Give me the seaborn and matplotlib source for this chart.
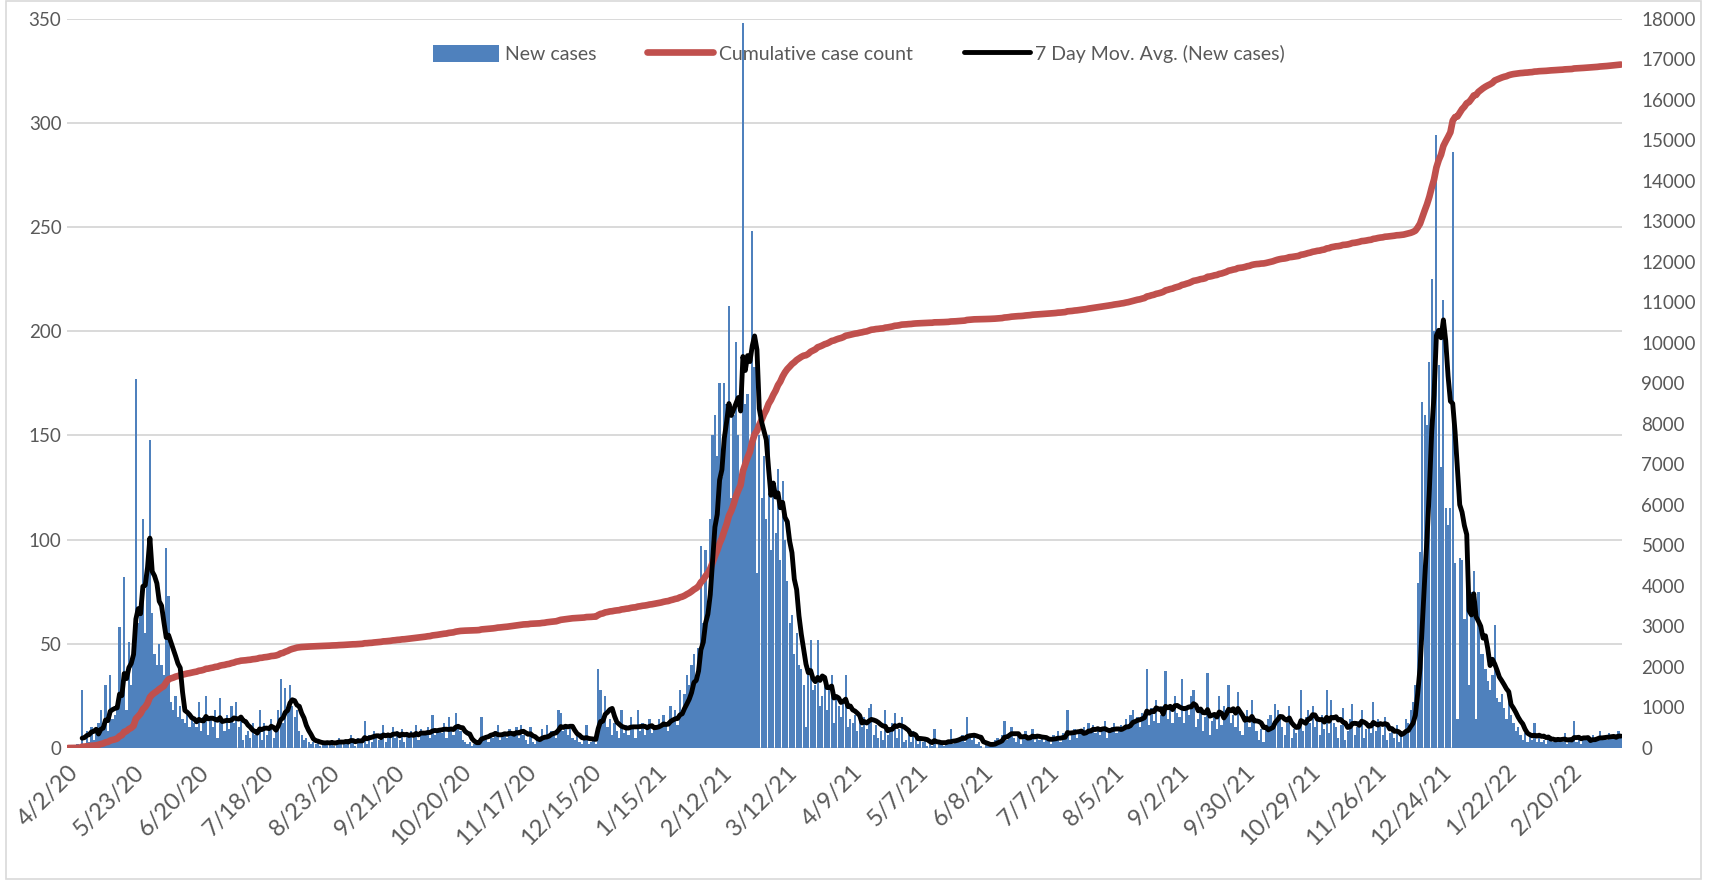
import numpy as np
import pandas as pd
import matplotlib
matplotlib.use("Agg")
import matplotlib.pyplot as plt
import seaborn as sns
from matplotlib.patches import Rectangle, Patch
from matplotlib.lines import Line2D
from matplotlib.transforms import ScaledTranslation

# ---------------- data (daily new cases, one row per reported day) ----------------
tick_labels = ["4/2/20", "5/23/20", "6/20/20", "7/18/20", "8/23/20", "9/21/20",
               "10/20/20", "11/17/20", "12/15/20", "1/15/21", "2/12/21", "3/12/21",
               "4/9/21", "5/7/21", "6/8/21", "7/7/21", "8/5/21", "9/2/21", "9/30/21",
               "10/29/21", "11/26/21", "12/24/21", "1/22/22", "2/20/22"]
rows_per_tick = 28

seg_0402_20 = [0, 1, 0, 1, 2, 1, 28, 2, 8, 3, 10, 4, 8, 12, 18, 12, 30, 8, 35, 14, 16, 20, 58, 25, 82, 18, 51, 30]
seg_0523_20 = [50, 177, 60, 65, 110, 55, 90, 148, 65, 45, 40, 50, 40, 35, 96, 73, 22, 18, 25, 15, 20, 14, 12, 16, 10, 14, 12, 10]
seg_0620_20 = [22, 8, 15, 25, 6, 14, 10, 18, 5, 24, 12, 8, 16, 9, 20, 12, 22, 10, 15, 4, 6, 8, 5, 12, 6, 9, 18, 4]
seg_0718_20 = [12, 6, 10, 14, 5, 9, 18, 33, 12, 29, 20, 30, 20, 15, 18, 8, 6, 4, 5, 3, 2, 3, 2, 4, 1, 3, 2, 3]
seg_0823_20 = [2, 4, 1, 3, 5, 2, 3, 4, 2, 6, 3, 1, 5, 3, 4, 13, 2, 6, 3, 8, 5, 4, 7, 11, 3, 6, 5, 10]
seg_0921_20 = [5, 8, 4, 9, 3, 7, 6, 8, 5, 11, 4, 9, 7, 6, 10, 5, 16, 6, 8, 9, 7, 12, 5, 15, 8, 6, 17, 10]
seg_1020_20 = [8, 4, 3, 2, 3, 1, 2, 3, 4, 15, 5, 6, 3, 7, 5, 8, 11, 4, 7, 6, 5, 9, 7, 8, 10, 5, 11, 6]
seg_1117_20 = [4, 2, 10, 3, 2, 4, 3, 9, 5, 11, 6, 8, 7, 5, 18, 17, 8, 10, 6, 9, 5, 4, 6, 3, 2, 4, 11, 2]
seg_1215_20 = [3, 5, 2, 38, 28, 12, 25, 10, 14, 6, 12, 8, 5, 18, 7, 11, 6, 15, 9, 5, 18, 8, 12, 6, 10, 14, 7, 11]
seg_0115_21 = [9, 14, 10, 16, 12, 8, 20, 14, 18, 11, 28, 16, 26, 35, 30, 40, 45, 35, 48, 97, 60, 95, 70, 110, 150, 160, 140, 175]
seg_0212_21 = [130, 175, 165, 212, 120, 160, 195, 150, 130, 348, 165, 170, 140, 248, 183, 84, 150, 120, 140, 110, 150, 95, 125, 103, 134, 90, 128, 100]
seg_0312_21 = [80, 60, 64, 45, 55, 40, 38, 30, 10, 35, 52, 28, 30, 52, 20, 25, 30, 18, 28, 35, 12, 25, 20, 15, 22, 35, 10, 14]
seg_0409_21 = [12, 16, 8, 14, 10, 15, 9, 19, 21, 6, 11, 5, 8, 4, 18, 6, 10, 12, 17, 5, 9, 15, 3, 4, 6, 3, 8, 5]
seg_0507_21 = [2, 4, 3, 5, 1, 2, 1, 9, 0, 2, 3, 1, 2, 4, 9, 2, 3, 5, 4, 6, 3, 15, 5, 4, 6, 2, 3, 1]
seg_0608_21 = [0, 2, 1, 3, 2, 4, 5, 3, 6, 13, 4, 7, 10, 5, 3, 6, 2, 5, 8, 4, 6, 9, 3, 5, 4, 6, 3, 5]
seg_0707_21 = [4, 2, 6, 5, 8, 3, 7, 5, 18, 4, 6, 9, 5, 8, 7, 10, 6, 12, 9, 11, 7, 10, 6, 9, 13, 5, 8, 10]
seg_0805_21 = [12, 7, 9, 11, 8, 14, 10, 16, 18, 12, 15, 10, 17, 14, 38, 11, 19, 13, 23, 12, 16, 20, 37, 14, 18, 12, 25, 17]
seg_0902_21 = [15, 33, 12, 20, 16, 25, 28, 10, 14, 18, 8, 15, 36, 6, 13, 17, 9, 25, 11, 20, 18, 30, 12, 16, 10, 27, 8, 6]
seg_0930_21 = [14, 18, 10, 23, 12, 8, 4, 9, 3, 11, 14, 16, 12, 21, 18, 14, 10, 6, 12, 20, 5, 9, 7, 11, 28, 8, 15, 18]
seg_1029_21 = [12, 20, 10, 14, 6, 16, 9, 28, 7, 23, 12, 10, 5, 11, 19, 4, 8, 14, 21, 6, 10, 13, 18, 5, 9, 12, 7, 22]
seg_1126_21 = [8, 14, 10, 6, 15, 4, 7, 9, 5, 11, 3, 6, 8, 14, 12, 18, 22, 30, 79, 94, 166, 160, 155, 185, 225, 200, 294, 184]
seg_1224_21 = [135, 215, 115, 107, 115, 286, 89, 14, 91, 90, 62, 85, 30, 75, 85, 14, 75, 45, 45, 38, 32, 28, 35, 59, 24, 22, 26, 19]
seg_0122_22 = [14, 25, 16, 12, 8, 10, 6, 4, 7, 3, 7, 4, 12, 3, 7, 3, 4, 2, 6, 5, 3, 4, 5, 3, 3, 7, 2, 4]
seg_0220_22 = [3, 13, 3, 4, 2, 5, 4, 4, 3, 6, 4, 5, 8, 4, 5, 4, 7, 5, 6, 5, 8, 5]

segments = [seg_0402_20, seg_0523_20, seg_0620_20, seg_0718_20, seg_0823_20, seg_0921_20,
            seg_1020_20, seg_1117_20, seg_1215_20, seg_0115_21, seg_0212_21, seg_0312_21,
            seg_0409_21, seg_0507_21, seg_0608_21, seg_0707_21, seg_0805_21, seg_0902_21,
            seg_0930_21, seg_1029_21, seg_1126_21, seg_1224_21, seg_0122_22, seg_0220_22]

new_cases = [v for seg in segments for v in seg]
n = len(new_cases)
df = pd.DataFrame({"row": np.arange(n), "new": new_cases})
df["cum"] = df["new"].cumsum()
df["ma7"] = df["new"].rolling(7).mean()

# ---------------- styling ----------------
sns.set_style("white")
plt.rcParams["font.family"] = ["Lato", "DejaVu Sans"]
TXT = "#595959"
BLUE = "#4F81BD"
RED = "#C0504D"
FS = 13.5
FS_X = 17

W, H = 1715, 880
fig = plt.figure(figsize=(W / 100, H / 100), dpi=100)
L, R, B, T = 67, 1622, 748, 18.6
ax = fig.add_axes([L / W, 1 - B / H, (R - L) / W, (B - T) / H])

sns.barplot(data=df, x="row", y="new", color=BLUE, saturation=1, width=0.95,
            linewidth=0, errorbar=None, ax=ax, native_scale=True)
ax.set_xlim(-0.5, n - 0.5)
ax.set_ylim(0, 350)
ax.set_yticks(range(0, 351, 50))
ax.set_axisbelow(True)
ax.yaxis.grid(True, color="#d9d9d9", lw=1.4)
ax.xaxis.grid(False)
ax.set_xlabel("")
ax.set_ylabel("")
ticks = [i * rows_per_tick for i in range(len(tick_labels))]
ax.set_xticks(ticks)
ax.set_xticklabels(tick_labels, rotation=45, ha="right", va="center", rotation_mode="anchor")
ax.tick_params(axis="x", length=0, pad=15, labelsize=FS_X, labelcolor=TXT)
ax.tick_params(axis="y", length=0, pad=4, labelsize=FS, labelcolor=TXT)
shift = ScaledTranslation(7 / 100, 0, fig.dpi_scale_trans)
for lab in ax.get_xticklabels():
    lab.set_transform(lab.get_transform() + shift)
for s in ax.spines.values():
    s.set_visible(False)

# cumulative on secondary axis
ax_r = ax.twinx()
sns.lineplot(data=df, x="row", y="cum", color=RED, lw=4.8, estimator=None,
             errorbar=None, ax=ax_r, solid_capstyle="round")
ax_r.set_ylim(0, 18000)
ax_r.set_yticks(range(0, 18001, 1000))
ax_r.set_xlim(-0.5, n - 0.5)
ax_r.set_xlabel("")
ax_r.set_ylabel("")
ax_r.tick_params(axis="y", length=0, pad=14, labelsize=FS, labelcolor=TXT)
for s in ax_r.spines.values():
    s.set_visible(False)

# moving average on top
ax_m = ax.twinx()
sns.lineplot(data=df, x="row", y="ma7", color="black", lw=3.5, estimator=None,
             errorbar=None, ax=ax_m)
ax_m.set_ylim(0, 350)
ax_m.set_xlim(-0.5, n - 0.5)
ax_m.axis("off")

handles = [Patch(facecolor=BLUE, edgecolor="none"),
           Line2D([0], [0], color=RED, lw=4.8),
           Line2D([0], [0], color="black", lw=3.5)]
labels = ["New cases", "Cumulative case count", "7 Day Mov. Avg. (New cases)"]
fig.legend(handles, labels, loc="center", bbox_to_anchor=(0.501, 1 - 54 / H), ncol=3,
           frameon=False, handlelength=3.4, handleheight=1.0, columnspacing=2.6,
           handletextpad=0.3, fontsize=14, labelcolor=TXT)

fig.add_artist(Rectangle((6 / W, 1 / H), (1701 - 6) / W, (879 - 1) / H,
                         transform=fig.transFigure, fill=False,
                         edgecolor="#d9d9d9", lw=1.2))

fig.savefig("out.png", dpi=100, facecolor="white")
